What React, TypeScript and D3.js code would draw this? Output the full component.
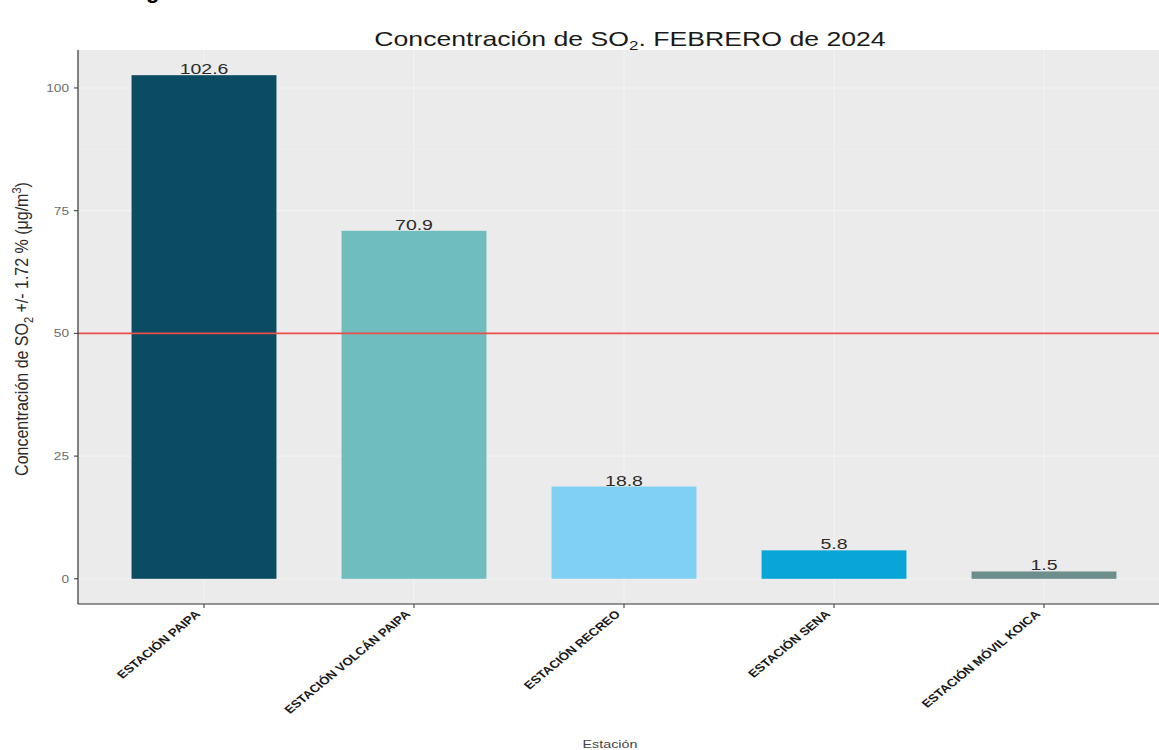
import React from "react";
import * as d3 from "d3";

const categories = [
  "ESTACIÓN PAIPA",
  "ESTACIÓN VOLCÁN PAIPA",
  "ESTACIÓN RECREO",
  "ESTACIÓN SENA",
  "ESTACIÓN MÓVIL KOICA",
];
const values = [102.6, 70.9, 18.8, 5.8, 1.5];
const barColors = ["#0b4c63", "#6fbdbd", "#80d0f3", "#0aa5d8", "#6c8e8c"];
const yTicks = [0, 25, 50, 75, 100];
const referenceLine = 50;

const W = 1159;
const H = 750;
const SX = 1.3;
const FONT = "'Liberation Sans', Arial, Helvetica, sans-serif";

export default function App() {
  const left = 78;
  const right = 1170;
  const top = 50;
  const bottom = 604;
  const maxV = d3.max(values) as number;
  const pad = maxV * 0.05;
  const y = d3.scaleLinear().domain([-pad, maxV + pad]).range([bottom, top]);
  const x = d3.scalePoint<string>().domain(categories).range([left, right]).padding(0.6);
  const step = x.step();
  const bw = step * 0.69;
  const minor = d3.range(0, yTicks.length - 1).map((i) => (yTicks[i] + yTicks[i + 1]) / 2);
  const panelMidY = (top + bottom) / 2;
  const panelMidX = (left + right) / 2;

  return (
    <div style={{ position: "absolute", left: 0, top: 0 }}>
      <svg width={W} height={H} style={{ display: "block", background: "#fff" }} fontFamily={FONT}>
        {/* cropped caption descender */}
        <text x={146} y={-2} fontSize={22} fontWeight="bold" fill="#000">g</text>
        <rect x={left} y={top} width={right - left} height={bottom - top} fill="#ebebeb" />
        {minor.map((t) => (
          <line key={"mi" + t} x1={left} x2={right} y1={y(t)} y2={y(t)} stroke="#f0f0f0" strokeWidth={0.6} />
        ))}
        {yTicks.map((t) => (
          <line key={"ma" + t} x1={left} x2={right} y1={y(t)} y2={y(t)} stroke="#f3f3f3" strokeWidth={1.1} />
        ))}
        {categories.map((c) => (
          <line key={"v" + c} x1={x(c)} x2={x(c)} y1={top} y2={bottom} stroke="#f3f3f3" strokeWidth={1.1} />
        ))}
        {categories.map((c, i) => (
          <rect
            key={"b" + c}
            x={(x(c) as number) - bw / 2}
            y={y(values[i])}
            width={bw}
            height={y(0) - y(values[i])}
            fill={barColors[i]}
          />
        ))}
        <line x1={left} x2={right} y1={y(referenceLine)} y2={y(referenceLine)} stroke="#e5504a" strokeWidth={1.6} />
        {categories.map((c, i) => (
          <text
            key={"l" + c}
            transform={`translate(${x(c)},${y(values[i]) - 1}) scale(${SX},1)`}
            textAnchor="middle"
            fontSize={15}
            fill="#2b2b2b"
          >
            {values[i].toFixed(1)}
          </text>
        ))}
        {/* axes */}
        <line x1={left} x2={left} y1={top} y2={bottom} stroke="#333" strokeWidth={1.2} />
        <line x1={left} x2={right} y1={bottom} y2={bottom} stroke="#333" strokeWidth={1.2} />
        {yTicks.map((t) => (
          <g key={"yt" + t}>
            <line x1={left - 4} x2={left} y1={y(t)} y2={y(t)} stroke="#333" strokeWidth={1} />
            <text
              transform={`translate(${left - 9},${y(t) + 4}) scale(${SX},1)`}
              textAnchor="end"
              fontSize={10.5}
              fill="#6b6b6b"
            >
              {t}
            </text>
          </g>
        ))}
        {categories.map((c) => (
          <g key={"xt" + c}>
            <line x1={x(c)} x2={x(c)} y1={bottom} y2={bottom + 4} stroke="#333" strokeWidth={1} />
            <text
              transform={`translate(${(x(c) as number) - 3},${bottom + 11}) scale(1.22,1) rotate(-45)`}
              textAnchor="end"
              fontSize={11}
              fontWeight="bold"
              fill="#1a1a1a"
            >
              {c}
            </text>
          </g>
        ))}
        {/* titles */}
        <text
          transform={`translate(${panelMidX + 6},${46}) scale(${SX},1)`}
          textAnchor="middle"
          fontSize={20.5}
          fill="#1a1a1a"
        >
          Concentración de SO<tspan fontSize={13} dy={4}>2</tspan>
          <tspan dy={-4}>. FEBRERO de 2024</tspan>
        </text>
        <text
          transform={`translate(${panelMidX - 14},${748}) scale(${SX},1)`}
          textAnchor="middle"
          fontSize={11}
          fill="#444"
        >
          Estación
        </text>
        <text
          transform={`translate(${28},${panelMidY + 2}) scale(1.2,1) rotate(-90)`}
          textAnchor="middle"
          fontSize={16}
          fill="#2b2b2b"
        >
          Concentración de SO<tspan fontSize={11} dy={4}>2</tspan>
          <tspan dy={-4}> +/- 1.72 % (μg/m</tspan>
          <tspan fontSize={11} dy={-6}>3</tspan>
          <tspan dy={6}>)</tspan>
        </text>
      </svg>
    </div>
  );
}
